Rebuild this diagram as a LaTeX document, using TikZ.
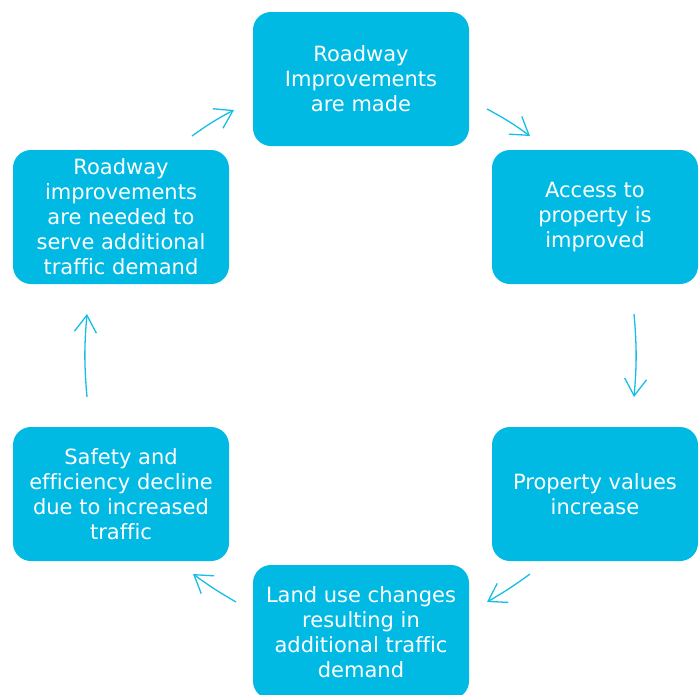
\documentclass[tikz,border=0pt]{standalone}
\usepackage{fontspec}
\setmainfont[Ligatures=NoCommon]{DejaVu Sans}
\usetikzlibrary{arrows.meta}
\definecolor{cyanbox}{RGB}{0,186,228}
\definecolor{cyanarrow}{RGB}{20,190,230}
\tikzset{
  cyclebox/.style={fill=cyanbox, draw=none, rounded corners=18pt, inner sep=0pt,
    minimum width=216pt, minimum height=134pt, text=white, align=center,
    font=\fontsize{21}{25}\selectfont},
  cyclearrow/.style={draw=cyanarrow, line width=1.3pt,
    -{Straight Barb[length=17pt,width=22pt,line width=1.3pt]}}
}
\begin{document}
\begin{tikzpicture}[x=1pt,y=1pt]
\useasboundingbox (0,0) rectangle (699,-694);
\clip (0,0) rectangle (699,-694);
\node[cyclebox] (A) at (361,-79) {Roadway\\Improvements\\are made};
\node[cyclebox, minimum width=206pt] (B) at (595,-217) {Access to\\property is\\improved};
\node[cyclebox, minimum width=206pt] (C) at (595,-494) {Property values\\increase};
\node[cyclebox] (D) at (361,-632) {Land use changes\\resulting in\\additional traffic\\demand};
\node[cyclebox] (E) at (121,-494) {Safety and\\efficiency decline\\due to increased\\traffic};
\node[cyclebox] (F) at (121,-217) {Roadway\\improvements\\are needed to\\serve additional\\traffic demand};
\coordinate (fa1) at (192,-136);
\coordinate (fa2) at (234,-110);
\coordinate (ab1) at (487,-109);
\coordinate (ab2) at (530,-136);
\coordinate (bc1) at (634,-314);
\coordinate (bc2) at (634,-397);
\coordinate (cd1) at (530,-574);
\coordinate (cd2) at (487,-602);
\coordinate (de1) at (236,-602);
\coordinate (de2) at (193,-574);
\coordinate (ef1) at (87,-397);
\coordinate (ef2) at (87,-314);
\draw[cyclearrow] (fa1) to[bend left=4] (fa2);
\draw[cyclearrow] (ab1) to[bend left=4] (ab2);
\draw[cyclearrow] (bc1) to[bend left=5] (bc2);
\draw[cyclearrow] (cd1) to[bend left=3] (cd2);
\draw[cyclearrow] (de1) to[bend left=3] (de2);
\draw[cyclearrow] (ef1) to[bend left=5] (ef2);
\end{tikzpicture}
\end{document}
